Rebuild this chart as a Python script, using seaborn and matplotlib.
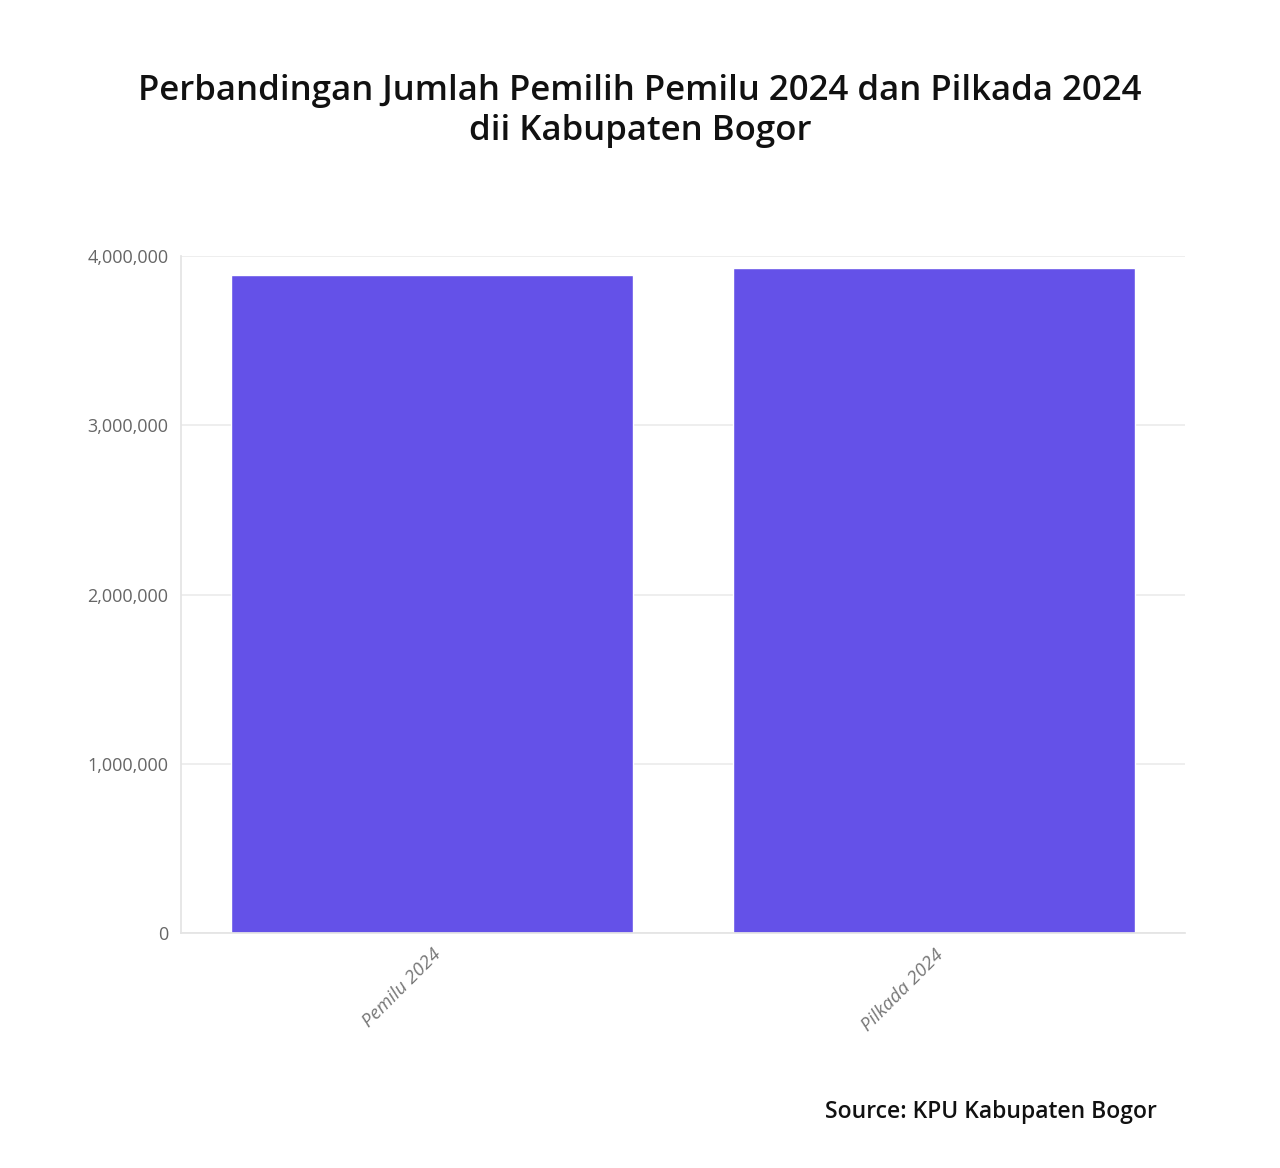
import matplotlib.pyplot as plt
import pandas as pd
import seaborn as sns
from matplotlib.ticker import FuncFormatter

sns.set_theme(style="whitegrid")
plt.rcParams["font.family"] = ["Open Sans", "DejaVu Sans"]

categories = ["Pemilu 2024", "Pilkada 2024"]
voters = [3887000, 3927000]
y_ticks = [0, 1000000, 2000000, 3000000, 4000000]

title = "Perbandingan Jumlah Pemilih Pemilu 2024 dan Pilkada 2024\ndii Kabupaten Bogor"
source = "Source: KPU Kabupaten Bogor"

df = pd.DataFrame({"kategori": categories, "pemilih": voters})

fig = plt.figure(figsize=(12.8, 11.68), dpi=100)
ax = fig.add_axes([181 / 1280, 1 - 933 / 1168, (1185 - 181) / 1280, (933 - 256) / 1168])

sns.barplot(data=df, x="kategori", y="pemilih", color="#6451e8", saturation=1,
            width=0.8, ax=ax)

ax.set_xlim(-0.5, 1.5)
ax.set_ylim(0, 4000000)
ax.set_yticks(y_ticks)
ax.yaxis.set_major_formatter(FuncFormatter(lambda v, p: f"{int(v):,}"))
ax.set_xlabel("")
ax.set_ylabel("")
ax.grid(axis="y", color="#ebebeb", linewidth=1.2)
ax.grid(axis="x", visible=False)
ax.set_axisbelow(True)

for side in ["top", "right"]:
    ax.spines[side].set_visible(False)
ax.spines["left"].set_color("#e4e4e4")
ax.spines["bottom"].set_color("#e4e4e4")

ax.tick_params(axis="both", which="both", length=5, color="#e4e4e4", width=1)
ax.tick_params(axis="y", labelsize=13, labelcolor="#666666", pad=4)
ax.tick_params(axis="x", labelsize=13.5, labelcolor="#777777", pad=4)
for lbl in ax.get_xticklabels():
    lbl.set_rotation(45)
    lbl.set_ha("right")
    lbl.set_rotation_mode("anchor")
    lbl.set_fontstyle("italic")

fig.text(0.5, 1 - 111 / 1168, title, ha="center", va="center", fontsize=25,
         fontweight="semibold", color="#111111", linespacing=1.2)
fig.text(1157 / 1280, 1 - 1112 / 1168, source, ha="right", va="center",
         fontsize=16.5, fontweight="semibold", color="#111111")

plt.savefig("out.png", dpi=100, facecolor="white")
